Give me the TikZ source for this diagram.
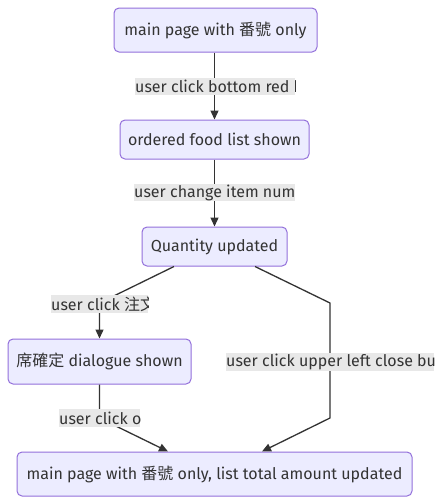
\documentclass[tikz,border=0pt]{standalone}
\usepackage{fontspec}
\setmainfont{Fira Sans}
\newfontfamily\cjk{Noto Sans CJK TC}
\usetikzlibrary{arrows.meta,calc}
\definecolor{nfill}{HTML}{ECECFF}
\definecolor{nstroke}{HTML}{9370DB}
\definecolor{ink}{HTML}{333333}
\definecolor{lbg}{HTML}{E8E8E8}
\newcommand\elab[6]{%
  \fill[lbg] (#2,#3) rectangle (#4,#5);
  \begin{scope}
    \clip (#2,#3) rectangle (#4,#5);
    \node[lbltext] (#1) at (#2,{(#3+#5)/2}) {#6};
  \end{scope}}
\begin{document}
\begin{tikzpicture}[x=1pt,y=-1pt,
  box/.style={draw=nstroke, fill=nfill, rounded corners=5pt, line width=1pt,
    text=ink, font=\fontsize{16}{19}\selectfont, inner sep=0pt},
  lbltext/.style={anchor=west, inner sep=0pt, text=ink, font=\fontsize{16}{19}\selectfont},
  arr/.style={draw=ink, line width=1.3pt, -{Triangle[length=9pt,width=8pt]}},
]
\useasboundingbox[fill=white] (0,0) rectangle (443,504);
\node[box, minimum width=203pt, minimum height=44pt] (n1) at (215.5,30) {main page with {\cjk 番號} only};
\node[box, minimum width=189pt, minimum height=39pt] (n2) at (214.5,139.5) {ordered food list shown};
\node[box, minimum width=145pt, minimum height=39pt] (n3) at (214.5,246.5) {Quantity updated};
\node[box, minimum width=183pt, minimum height=45pt] (n4) at (99.5,361.5) {{\cjk 席確定} dialogue shown};
\node[box, minimum width=395pt, minimum height=44pt] (n5) at (214.5,474) {main page with {\cjk 番號} only, list total amount updated};

\coordinate (c3) at (99.5,303);
\coordinate (c4a) at (330,303);
\coordinate (c4b) at (330,418);
\coordinate (c5) at (99.5,418);

\draw[arr] (n1.south -| n2.north) -- (n2.north);
\draw[arr] (n2.south) -- (n3.north);
\draw[arr] ($(n3.south)+(-40.5,0)$) -- (c3) -- (n4.north);
\draw[arr] ($(n3.south)+(40.5,0)$) -- (c4a) -- (c4b) -- ($(n5.north)+(47.5,0)$);
\draw[arr] (n4.south) -- (c5) -- ($(n5.north)+(-46.5,0)$);

\elab{l1}{135}{77.5}{295}{94.5}{user click bottom red button}
\elab{l2}{134}{184}{295}{201}{user change item number}
\elab{l3}{51}{295}{148}{313}{user click {\cjk 注文}}
\elab{l4}{226}{353}{434}{371}{user click upper left close button}
\elab{l5}{59}{409}{140}{427}{user click ok}
\end{tikzpicture}
\end{document}
